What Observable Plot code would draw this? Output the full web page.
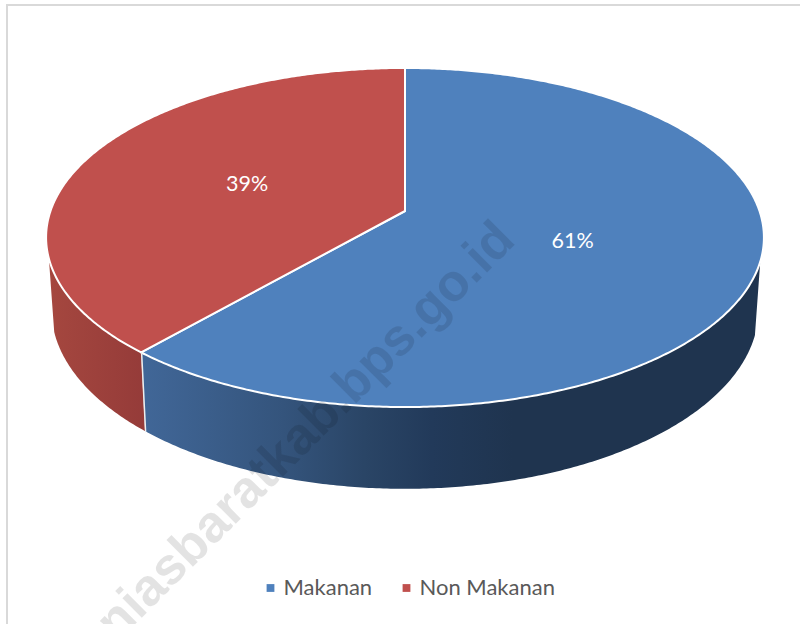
<!DOCTYPE html>
<html>
<head>
<meta charset="utf-8">
<script src="https://cdn.jsdelivr.net/npm/d3@7"></script>
<script src="https://cdn.jsdelivr.net/npm/@observablehq/plot@0.6"></script>
<style>
html,body{margin:0;padding:0;background:#fff;width:800px;height:624px;overflow:hidden}
#wrap{position:relative;width:800px;height:624px}
#frame{position:absolute;left:6px;top:4px;right:-4px;bottom:-4px;border:2px solid #d9d9d9;box-sizing:border-box}
#wrap svg{position:absolute;left:0;top:0;background:transparent}
</style>
</head>
<body>
<div id="wrap"><div id="frame"></div></div>
<script>
const categories = ["Makanan", "Non Makanan"];
const shares = [61.4, 38.6];
const labels = ["61%", "39%"];
const topColors = ["#4f81bd", "#c0504d"];
const blueWallStops = [["0%", "#416798"], ["23%", "#34547c"], ["36%", "#2a4566"], ["47%", "#223a5a"], ["60%", "#1f344f"], ["100%", "#1f344f"]];
const redWallStops = [["0%", "#a5473f"], ["100%", "#953b39"]];
const watermark = "niasbaratkab.bps.go.id";

const k = 0.1563, baseScale = 0.985, baseH = 1.056, baseY = 0.428;
const rim = (deg, r = 1) => {
  const a = deg * Math.PI / 180, u = r * Math.sin(a), v = -r * Math.cos(a);
  return {deg, X: u / (1 - k * v), Y: v / (1 - k * v),
    X2: baseScale * u / (1 - k * v), Y2: baseY + baseH * v / (1 - k * v)};
};
const ends = d3.cumsum(shares).map(d => d * 3.6);
const starts = [0, ...ends.slice(0, -1)];
const arc = (from, to, step) => [...d3.range(from, to, step), to].map(d => rim(d));

const faces = categories.flatMap((c, i) => arc(starts[i], ends[i], 0.5).map(p => ({...p, c, i})));
const wallBlue = arc(107, ends[0], 0.5);
const wallRed = arc(ends[0], 254, 0.5);
const wallEdge = [rim(ends[0])].flatMap(p => [{x: p.X, y: p.Y}, {x: p.X2, y: p.Y2}]);
const texts = categories.map((c, i) => {
  const p = rim((starts[i] + ends[i]) / 2, 0.49);
  return {X: p.X, Y: p.Y, t: labels[i]};
});
const gradient = (id, stops) => () => {
  const defs = d3.create("svg:defs");
  const g = defs.append("linearGradient").attr("id", id).attr("x1", 0).attr("x2", 1).attr("y1", 0).attr("y2", 0);
  stops.forEach(([o, c]) => g.append("stop").attr("offset", o).attr("stop-color", c));
  return defs.node();
};

const chart = Plot.plot({
  width: 800, height: 624, margin: 0,
  style: {background: "transparent"},
  x: {domain: [-1, 1], range: [50.5, 759.5], axis: null},
  y: {domain: [-1, 1], range: [45.6, 376.4], axis: null},
  marks: [
    gradient("wall-blue", blueWallStops),
    gradient("wall-red", redWallStops),
    Plot.area(wallBlue, {x1: "X", y1: "Y", x2: "X2", y2: "Y2", fill: "url(#wall-blue)"}),
    Plot.area(wallRed, {x1: "X", y1: "Y", x2: "X2", y2: "Y2", fill: "url(#wall-red)"}),
    Plot.area(faces, {x1: "X", y1: "Y", x2: () => 0, y2: () => 0, z: "c", fill: d => topColors[d.i], stroke: "#fff", strokeWidth: 2}),
    Plot.line(wallEdge, {x: "x", y: "y", stroke: "#eee", strokeWidth: 1.5}),
    Plot.text(texts, {x: "X", y: "Y", text: "t", fill: "#fff", fontSize: 21.5, fontFamily: "Lato"}),
    Plot.dot([categories[0]], {frameAnchor: "top-left", dx: 270, dy: 587.5, symbol: "square", r: 4.4, fill: topColors[0]}),
    Plot.dot([categories[1]], {frameAnchor: "top-left", dx: 406, dy: 587.5, symbol: "square", r: 4.4, fill: topColors[1]}),
    Plot.text([categories[0]], {text: d => d, frameAnchor: "top-left", dx: 283, dy: 587, textAnchor: "start", lineAnchor: "middle", fontSize: 22, fontFamily: "Lato", fill: "#595959"}),
    Plot.text([categories[1]], {text: d => d, frameAnchor: "top-left", dx: 419, dy: 587, textAnchor: "start", lineAnchor: "middle", fontSize: 22, fontFamily: "Lato", fill: "#595959"}),
    Plot.text([watermark], {text: d => d, frameAnchor: "top-left", dx: 505, dy: 230, rotate: -45, textAnchor: "end", lineAnchor: "middle", fontSize: 52, fontWeight: "bold", fontFamily: "Liberation Sans", fill: "#000", fillOpacity: 0.11})
  ]
});
document.getElementById("wrap").appendChild(chart);
</script>
</body>
</html>
